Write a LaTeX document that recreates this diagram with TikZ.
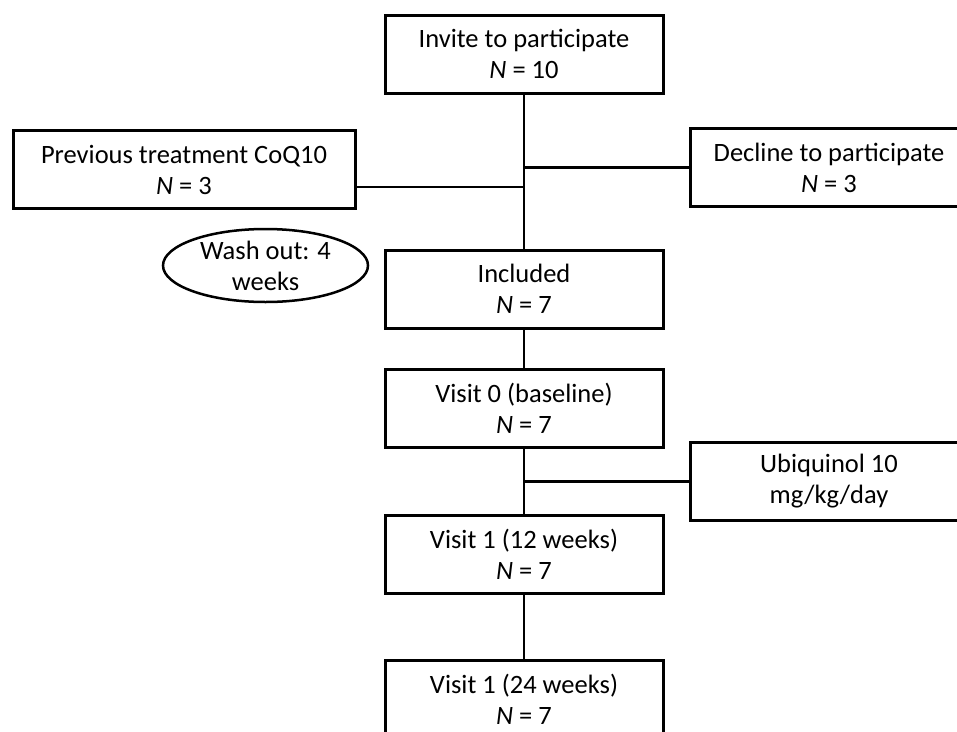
\documentclass[tikz,border=0pt]{standalone}
\usepackage{fontspec}
\setmainfont{Carlito}
\usetikzlibrary{shapes.geometric}

\begin{document}
\begin{tikzpicture} [x=1pt, y=-1pt, font=\fontsize{26.5pt}{31pt}\selectfont,
  stage/.style={draw, line width=3pt, minimum width=278pt, minimum height=78pt, align=center, inner sep=0pt},
  note/.style={draw, ellipse, line width=2.5pt, minimum width=205pt, minimum height=73pt, align=center, inner sep=0pt},
  link/.style={line width=2.5pt}]
\useasboundingbox (0,0) rectangle (957,731);
\clip (0,0) rectangle (957,731);
\node[stage](invite) at (524,54){Invite to participate\\\textit{N} = 10};
\node[stage, minimum width=342pt](prev) at (184,169.5){Previous treatment CoQ10\\\textit{N} = 3};
\node[stage](decline) at (829,167.5){Decline to participate\\\textit{N} = 3};
\node[note](wash) at (265.5,265.5){Wash out: 4\\weeks};
\node[stage](incl) at (524,289){Included\\\textit{N} = 7};
\node[stage](v0) at (524,408){Visit 0 (baseline)\\\textit{N} = 7};
\node[stage](ubiq) at (829,481.5){Ubiquinol 10\\mg/kg/day};
\node[stage](v1) at (524,554){Visit 1 (12 weeks)\\\textit{N} = 7};
\node[stage](v2) at (524,699){Visit 1 (24 weeks)\\\textit{N} = 7};
\coordinate (jprev) at (524,187);
\draw[link] (invite) -- (incl);
\draw[link] (prev.east |- jprev) -- (jprev);
\draw[link] (decline.west) -- (decline.west -| invite.south);
\draw[link] (incl) -- (v0);
\draw[link] (v0) -- (v1);
\draw[link] (ubiq.west) -- (ubiq.west -| v0.south);
\draw[link] (v1) -- (v2);
\end{tikzpicture}
\end{document}
